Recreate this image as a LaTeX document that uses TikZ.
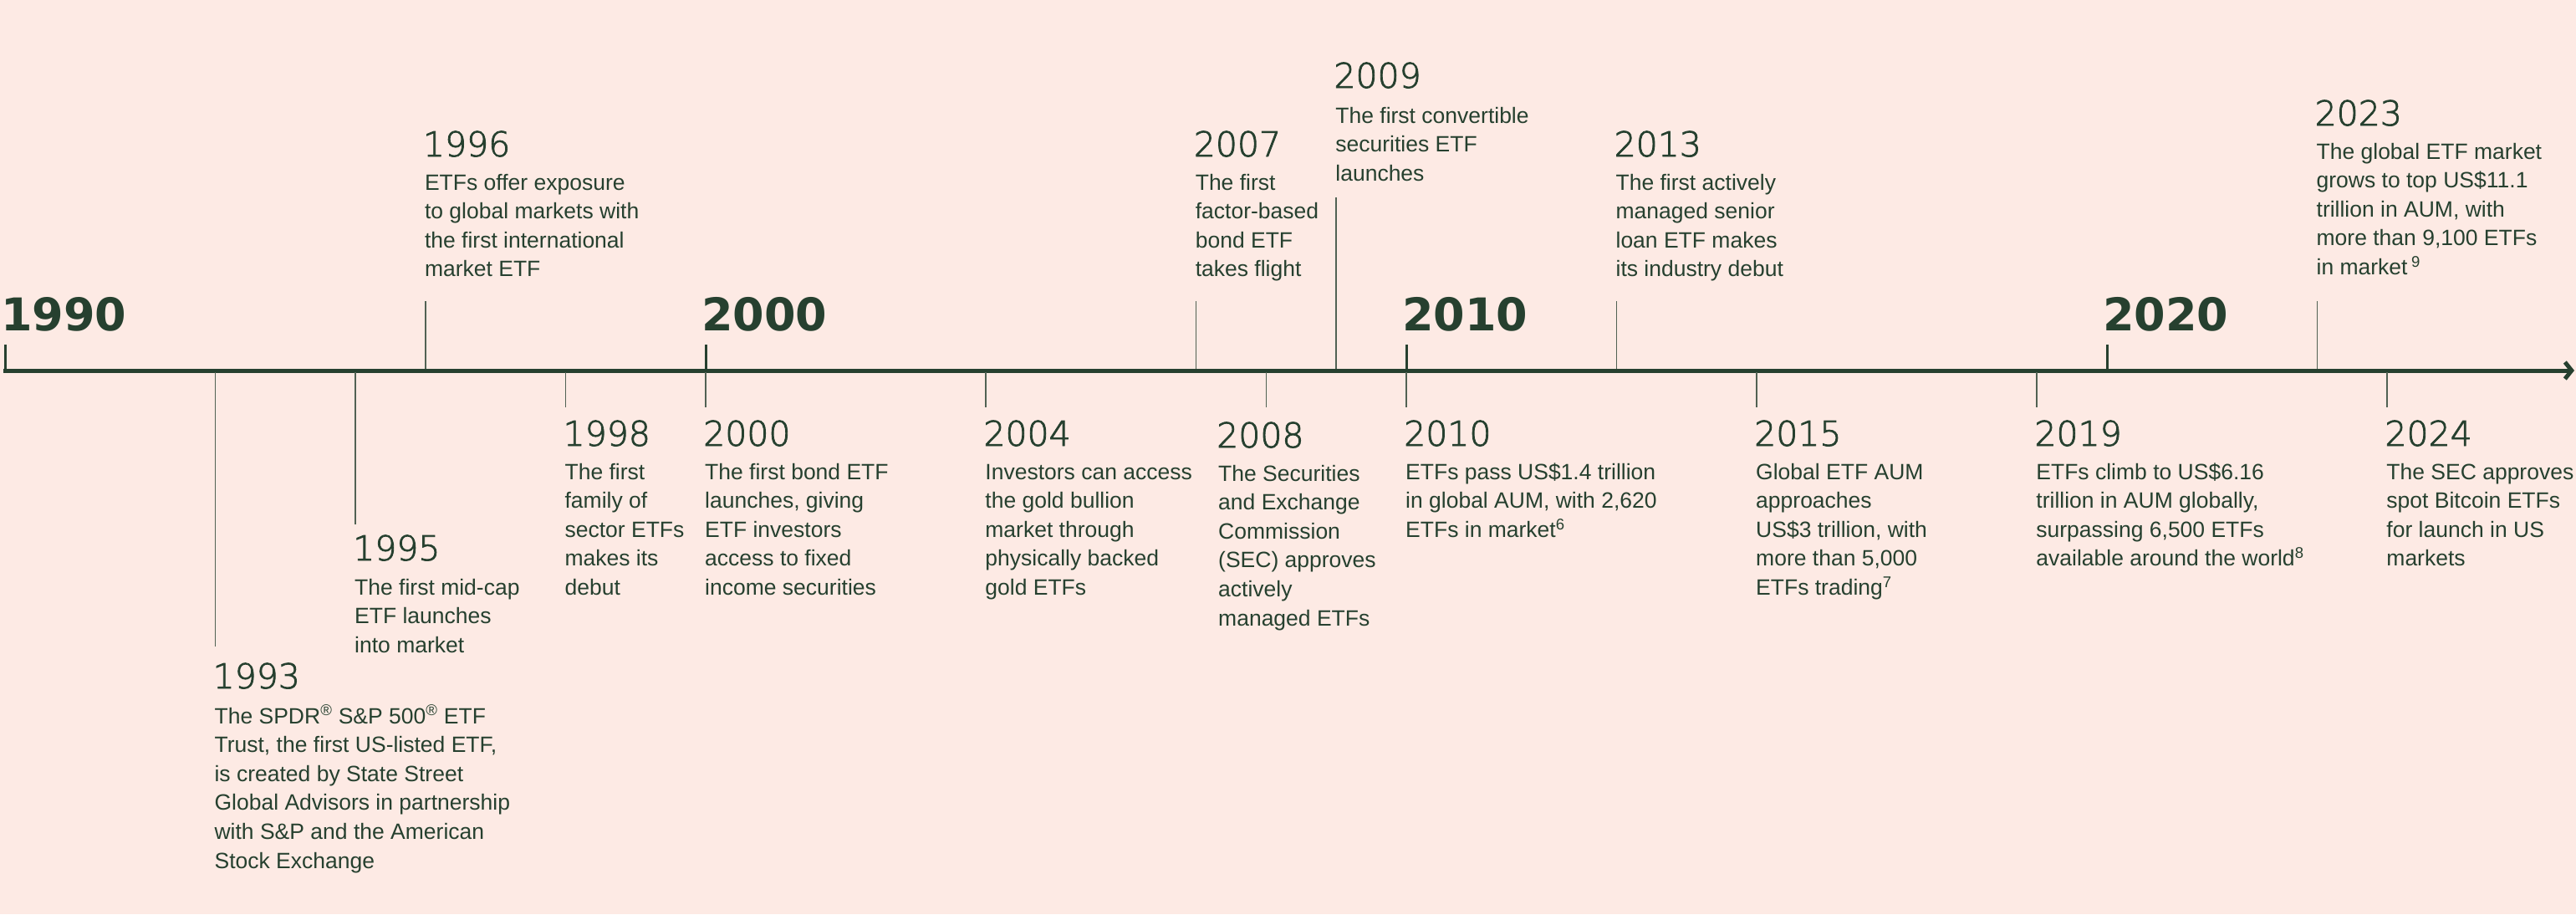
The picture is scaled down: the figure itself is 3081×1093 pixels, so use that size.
\documentclass[tikz,border=0pt]{standalone}
\usepackage{fontspec}
\setmainfont{Liberation Sans}
\newfontfamily\yearfont[FakeBold=2]{DejaVu Sans ExtraLight}
\newfontfamily\decfont{DejaVu Sans}
\usetikzlibrary{arrows.meta}
\definecolor{bgpink}{HTML}{FDEAE4}
\definecolor{ink}{HTML}{26402F}
\tikzset{
  body/.style={anchor=base west, inner sep=0pt, align=left, text=ink, font=\fontsize{26.5}{34.6}\selectfont},
  yr/.style={anchor=base west, inner sep=0pt, text=ink, font=\yearfont\fontsize{41}{41}\selectfont},
  decade/.style={anchor=base west, inner sep=0pt, text=ink, font=\decfont\bfseries\fontsize{54}{54}\selectfont},
  evline/.style={draw=ink!80!bgpink, line width=1.6pt},
  dtick/.style={draw=ink, line width=3pt},
  axisline/.style={draw=ink, line width=5pt, -{Straight Barb[length=8pt,width=20pt]}},
}
\begin{document}
\begin{tikzpicture}[x=1pt,y=-1pt]
\fill[bgpink] (0,0) rectangle (3081,1093);
\useasboundingbox (0,0) rectangle (3081,1093);

% axis
\coordinate (axL) at (4,443);
\coordinate (axR) at (3079,443);
\draw[axisline] (axL) -- (axR);

% decade ticks and labels
\foreach \nm/\xx in {1990/6,2000/844,2010/1682,2020/2520}{
  \coordinate (dt\nm a) at (\xx,441);
  \coordinate (dt\nm b) at (\xx,412);
  \draw[dtick] (dt\nm a) -- (dt\nm b);
  \node[decade] (dl\nm) at (\xx-5,395) {\nm};
}

% event lines above the axis
\foreach \nm/\xx/\yy in {1996/508.8/360,2007/1430.6/360,2009/1598.2/236,2013/1933.4/360,2023/2771.4/360}{
  \coordinate (a\nm) at (\xx,441);
  \coordinate (e\nm) at (\xx,\yy);
  \draw[evline] (a\nm) -- (e\nm);
}
% event lines below the axis
\foreach \nm/\xx/\yy in {1993/257.4/773,1995/425/627,1998/676.4/487,2000/844/487,2004/1179.2/487,2008/1514.4/487,2010/1682/487,2015/2101/487,2019/2436.2/487,2024/2855.2/487}{
  \coordinate (a\nm) at (\xx,445);
  \coordinate (e\nm) at (\xx,\yy);
  \draw[evline] (a\nm) -- (e\nm);
}

% (body nodes are placed by the baseline of their last line)
% ---- events above ----
\node[yr] (y1996) at (505.8,187) {1996};
\node[body] (t1996) at (507.8,330.8) {ETFs offer exposure\\to global markets with\\the first international\\market ETF};

\node[yr] (y2007) at (1427.6,187) {2007};
\node[body] (t2007) at (1429.6,330.8) {The first\\factor-based\\bond ETF\\takes flight};

\node[yr] (y2009) at (1595.2,105) {2009};
\node[body] (t2009) at (1597.2,216.2) {The first convertible\\securities ETF\\launches};

\node[yr] (y2013) at (1930.4,187) {2013};
\node[body] (t2013) at (1932.4,330.8) {The first actively\\managed senior\\loan ETF makes\\its industry debut};

\node[yr] (y2023) at (2768.4,150) {2023};
\node[body] (t2023) at (2770.4,328.4) {The global ETF market\\grows to top US\$11.1\\trillion in AUM, with\\more than 9,100 ETFs\\in market\,\textsuperscript{9}};

% ---- events below ----
\node[yr] (y1993) at (254.4,823) {1993};
\node[body] (t1993) at (256.4,1038) {The SPDR\textsuperscript{®} S\&P 500\textsuperscript{®} ETF\\Trust, the first US-listed ETF,\\is created by State Street\\Global Advisors in partnership\\with S\&P and the American\\Stock Exchange};

\node[yr] (y1995) at (422,670) {1995};
\node[body] (t1995) at (424,780.2) {The first mid-cap\\ETF launches\\into market};

\node[yr] (y1998) at (673.4,533) {1998};
\node[body] (t1998) at (675.4,711.4) {The first\\family of\\sector ETFs\\makes its\\debut};

\node[yr] (y2000) at (841,533) {2000};
\node[body] (t2000) at (843,711.4) {The first bond ETF\\launches, giving\\ETF investors\\access to fixed\\income securities};

\node[yr] (y2004) at (1176.2,533) {2004};
\node[body] (t2004) at (1178.2,711.4) {Investors can access\\the gold bullion\\market through\\physically backed\\gold ETFs};

\node[yr] (y2008) at (1455,535) {2008};
\node[body] (t2008) at (1457,748) {The Securities\\and Exchange\\Commission\\(SEC) approves\\actively\\managed ETFs};

\node[yr] (y2010) at (1679,533) {2010};
\node[body] (t2010) at (1681,642.2) {ETFs pass US\$1.4 trillion\\in global AUM, with 2,620\\ETFs in market\textsuperscript{6}};

\node[yr] (y2015) at (2098,533) {2015};
\node[body] (t2015) at (2100,711.4) {Global ETF AUM\\approaches\\US\$3 trillion, with\\more than 5,000\\ETFs trading\textsuperscript{7}};

\node[yr] (y2019) at (2433.2,533) {2019};
\node[body] (t2019) at (2435.2,676.8) {ETFs climb to US\$6.16\\trillion in AUM globally,\\surpassing 6,500 ETFs\\available around the world\textsuperscript{8}};

\node[yr] (y2024) at (2852.2,533) {2024};
\node[body] (t2024) at (2854.2,676.8) {The SEC approves\\spot Bitcoin ETFs\\for launch in US\\markets};
\end{tikzpicture}
\end{document}
